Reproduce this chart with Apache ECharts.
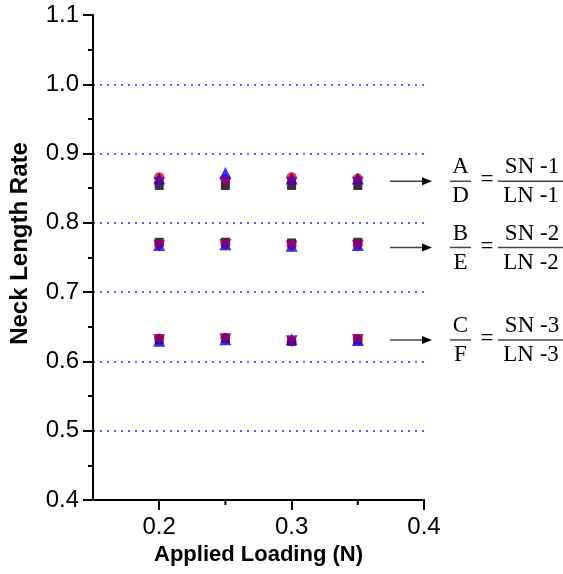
<!DOCTYPE html>
<html><head><meta charset="utf-8">
<script src="https://cdn.jsdelivr.net/npm/echarts@6/dist/echarts.min.js"></script>
<style>html,body{margin:0;padding:0;background:#fff}#c{width:563px;height:574px}</style>
</head><body><div id="c"></div>
<script>
// Applied loads (N)
var loads = [0.2, 0.25, 0.3, 0.35];
// Each series: row 1 (SN-1/LN-1), row 2 (SN-2/LN-2), row 3 (SN-3/LN-3), 4 loads each
var squareBlack = [0.854, 0.854, 0.854, 0.854, 0.772, 0.772, 0.771, 0.772, 0.631, 0.633, 0.629, 0.631];
var circleRed   = [0.866, 0.863, 0.866, 0.864, 0.769, 0.770, 0.768, 0.769, 0.633, 0.634, 0.629, 0.632];
var triUpBlue   = [0.864, 0.872, 0.864, 0.864, 0.768, 0.769, 0.767, 0.768, 0.630, 0.632, 0.632, 0.631];
var triDownPurple = [0.858, 0.857, 0.858, 0.858, 0.767, 0.768, 0.766, 0.767, 0.631, 0.632, 0.629, 0.631];
var xTickLabels = [0.2, 0.3, 0.4];
var xMinorTicks = [0.25, 0.35];
var rowLevels = [0.860, 0.7645, 0.631];
var numerators = ['A', 'B', 'C'];
var denominators = ['D', 'E', 'F'];
var rightNum = ['SN -1', 'SN -2', 'SN -3'];
var rightDen = ['LN -1', 'LN -2', 'LN -3'];

function pairs(vals) {
  var out = [];
  for (var i = 0; i < vals.length; i++) out.push([loads[i % loads.length], vals[i]]);
  return out;
}

var chart = echarts.init(document.getElementById('c'), null, {renderer: 'canvas'});
var sans = 'Liberation Sans, Arial, sans-serif';
var axisFont = {fontFamily: sans, fontSize: 24, color: '#000'};
var lineCol = '#000';

var option = {
  animation: false,
  backgroundColor: '#fff',
  grid: {left: 92, right: 139, top: 15, bottom: 74, containLabel: false},
  xAxis: {
    type: 'value', min: 0.15, max: 0.4, interval: 0.05,
    name: 'Applied Loading (N)', nameLocation: 'middle', nameGap: 43,
    nameTextStyle: {fontFamily: sans, fontSize: 22, fontWeight: 'bold', color: '#000'},
    axisLine: {show: true, onZero: false, lineStyle: {color: lineCol, width: 2}},
    axisTick: {show: true, length: 10, lineStyle: {color: lineCol, width: 2}, customValues: xTickLabels},
    axisLabel: Object.assign({margin: 15, customValues: xTickLabels, formatter: function (v) { return v.toFixed(1); }}, axisFont),
    splitLine: {show: false}
  },
  yAxis: {
    type: 'value', min: 0.4, max: 1.1, interval: 0.1,
    name: 'Neck Length Rate', nameLocation: 'middle', nameGap: 61,
    nameTextStyle: {fontFamily: sans, fontSize: 24, fontWeight: 'bold', color: '#000', padding: [0, 0, 0, 28]},
    axisLine: {show: true, onZero: false, lineStyle: {color: lineCol, width: 2}},
    axisTick: {show: true, length: 10, lineStyle: {color: lineCol, width: 2}},
    minorTick: {show: true, splitNumber: 2, length: 5, lineStyle: {color: lineCol, width: 2}},
    axisLabel: Object.assign({margin: 14, formatter: function (v) { return v.toFixed(1); }}, axisFont),
    splitLine: {show: true, showMinLine: false, showMaxLine: false, lineStyle: {color: '#2a2aff', width: 1.5, type: [2, 5]}}
  },
  series: [
    {name: 'square', type: 'scatter', data: pairs(squareBlack), symbol: 'rect', symbolSize: 9, itemStyle: {color: '#000'}, z: 2},
    {name: 'circle', type: 'scatter', data: pairs(circleRed), symbol: 'circle', symbolSize: 10, itemStyle: {color: '#ff0000'}, z: 3},
    {name: 'up', type: 'scatter', data: pairs(triUpBlue), symbol: 'triangle', symbolSize: 12, itemStyle: {color: '#0000ff'}, z: 4},
    {name: 'down', type: 'scatter', data: pairs(triDownPurple), symbol: 'triangle', symbolRotate: 180, symbolSize: 12, itemStyle: {color: '#800080'}, z: 5}
  ]
};
chart.setOption(option);

var g = [];
// Minor x-axis ticks (short) at 0.25 and 0.35
var axisY = chart.convertToPixel({yAxisIndex: 0}, 0.4);
for (var m = 0; m < xMinorTicks.length; m++) {
  var mx = chart.convertToPixel({xAxisIndex: 0}, xMinorTicks[m]);
  g.push({type: 'line', shape: {x1: mx, y1: axisY, x2: mx, y2: axisY + 5}, style: {stroke: lineCol, lineWidth: 2}});
}
// Annotations: arrows and ratio formulas aligned to each row level
var serif = 'Liberation Serif, Times New Roman, serif';
for (var r = 0; r < rowLevels.length; r++) {
  var c = chart.convertToPixel({yAxisIndex: 0}, rowLevels[r]);
  g.push({type: 'line', shape: {x1: 390, y1: c, x2: 424, y2: c}, style: {stroke: '#444', lineWidth: 1.5}});
  g.push({type: 'polygon', shape: {points: [[432, c], [422, c - 4], [422, c + 4]]}, style: {fill: '#000'}});
  g.push({type: 'line', shape: {x1: 450, y1: c, x2: 471, y2: c}, style: {stroke: '#444', lineWidth: 1.5}});
  g.push({type: 'line', shape: {x1: 498, y1: c, x2: 563, y2: c}, style: {stroke: '#444', lineWidth: 1.5}});
  g.push({type: 'text', x: 460.5, y: c - 14, style: {text: numerators[r], font: '23px ' + serif, fill: '#000', align: 'center', verticalAlign: 'middle'}});
  g.push({type: 'text', x: 460.5, y: c + 15, style: {text: denominators[r], font: '23px ' + serif, fill: '#000', align: 'center', verticalAlign: 'middle'}});
  g.push({type: 'text', x: 487, y: c - 1, style: {text: '=', font: '23px ' + serif, fill: '#000', align: 'center', verticalAlign: 'middle'}});
  g.push({type: 'text', x: 532, y: c - 14, style: {text: rightNum[r], font: '23px ' + serif, fill: '#000', align: 'center', verticalAlign: 'middle'}});
  g.push({type: 'text', x: 531, y: c + 15, style: {text: rightDen[r], font: '23px ' + serif, fill: '#000', align: 'center', verticalAlign: 'middle'}});
}
chart.setOption({graphic: g});
</script></body></html>
